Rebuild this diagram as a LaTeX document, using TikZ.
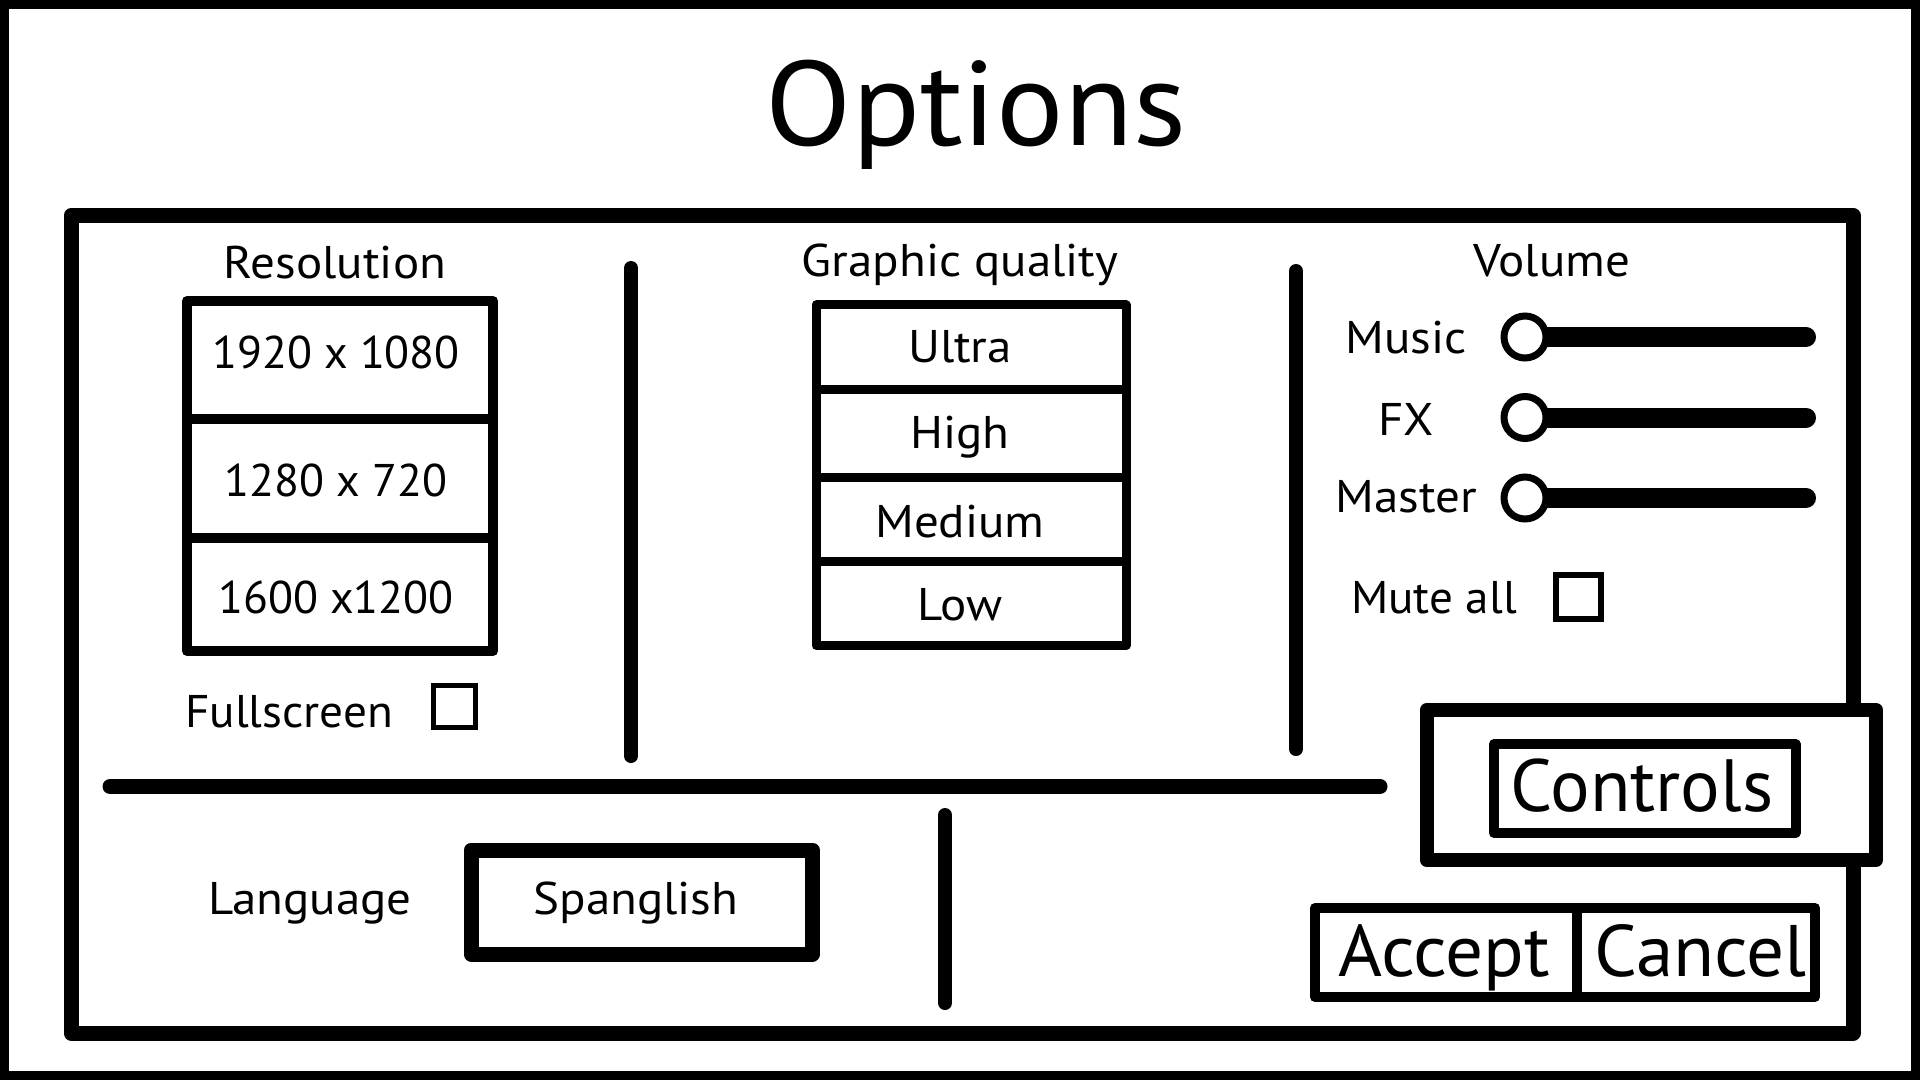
\documentclass[tikz,border=0pt]{standalone}
\usepackage{fontspec}
\setmainfont{PT Sans}[FakeStretch=1.07]
\newfontfamily\plainf{PT Sans}
\newfontfamily\titlef{PT Sans}[FakeStretch=1.05]
\newfontfamily\btnf{PT Sans}[FakeStretch=1.03]
\newcommand{\fsz}[1]{\fontsize{#1}{#1}\selectfont}
\tikzset{
  lbl/.style={inner sep=0pt, anchor=base, font=\fsz{22.9}},
  numlbl/.style={inner sep=0pt, anchor=base, font=\plainf\fsz{22.9}},
  midlbl/.style={inner sep=0pt, anchor=base, font=\btnf\fsz{22.9}},
  bigbtn/.style={inner sep=0pt, anchor=base, font=\btnf\fsz{36.5}},
  panelline/.style={line width=7.5pt, line join=round},
  boxline/.style={line width=5pt, line join=round},
  gqline/.style={line width=4.5pt, line join=round},
  chkbox/.style={line width=2.6pt},
  divline/.style={line width=7pt, line cap=round},
  sliderbar/.style={line width=10pt, line cap=round},
  knob/.style={line width=3.5pt, fill=white},
}
\begin{document}
\begin{tikzpicture}[x=0.5pt,y=-0.5pt]
\useasboundingbox (0,0) rectangle (1920,1080);
\fill[white] (0,0) rectangle (1920,1080);
\draw[line width=4.5pt] (4.5,4.5) rectangle (1915.5,1075.5);

% title
\node[inner sep=0pt, anchor=base, font=\titlef\fsz{60}] (title) at (976,146) {Options};

% main panel
\draw[panelline] (71,215.5) rectangle (1853,1033);

% Resolution
\node[lbl] (res) at (335,279) {Resolution};
\draw[boxline] (187,301) rectangle (493,651);
\draw[boxline] (187,419) -- (493,419);
\draw[boxline] (187,538) -- (493,538);
\node[numlbl] (r1) at (336,368) {1920 x 1080};
\node[numlbl] (r2) at (336,496) {1280 x 720};
\node[numlbl] (r3) at (336,613) {1600 x1200};
\node[midlbl, anchor=base west] (fullscr) at (185,727) {Fullscreen};
\draw[chkbox] (433.5,685.5) rectangle (475.5,727.5);

\draw[divline] (631,268) -- (631,756);

% Graphic quality
\node[lbl] (gq) at (960,277) {Graphic quality};
\draw[gqline] (816,305) rectangle (1126,645.5);
\draw[gqline] (816,389.5) -- (1126,389.5);
\draw[gqline] (816,477.5) -- (1126,477.5);
\draw[gqline] (816,561.5) -- (1126,561.5);
\node[lbl] (q1) at (960,363) {Ultra};
\node[lbl] (q2) at (960,448) {High};
\node[lbl] (q3) at (960,537) {Medium};
\node[lbl] (q4) at (960,620) {Low};

\draw[divline] (1296,271) -- (1296,749);

% Volume
\node[lbl] (vol) at (1552,277) {Volume};
\node[lbl] (music) at (1406,354) {Music};
\node[lbl] (fx) at (1406,435) {FX};
\node[lbl] (master) at (1406,512) {Master};
\draw[sliderbar] (1525,337) -- (1806,337);
\draw[knob] (1525,337) circle[radius=10.5pt];
\draw[sliderbar] (1525,417.5) -- (1806,417.5);
\draw[knob] (1525,417.5) circle[radius=10.5pt];
\draw[sliderbar] (1525,498) -- (1806,498);
\draw[knob] (1525,498) circle[radius=10.5pt];
\node[midlbl] (mute) at (1434,613) {Mute all};
\draw[chkbox] (1556,575) rectangle (1601,619);

% horizontal divider
\draw[line width=7.5pt, line cap=round] (110,786.5) -- (1380,786.5);

% Language
\node[lbl] (lang) at (310,914) {Language};
\draw[panelline] (471,850) rectangle (812.5,954);
\node[lbl] (span) at (636,914) {Spanglish};

\draw[divline] (945,815) -- (945,1003);

% Controls
\draw[line width=7pt, line join=round, fill=white] (1426.6,710) rectangle (1876,860);
\draw[boxline] (1494,744) rectangle (1795.5,833);
\node[inner sep=0pt, anchor=base, font=\plainf\fsz{37}] (ctl) at (1642,811) {Controls};

% Accept / Cancel
\draw[boxline] (1315,908) rectangle (1815,997);
\draw[boxline] (1577,908) -- (1577,997);
\node[bigbtn] (acc) at (1444,976) {Accept};
\node[bigbtn] (can) at (1700.5,976) {Cancel};
\end{tikzpicture}
\end{document}
